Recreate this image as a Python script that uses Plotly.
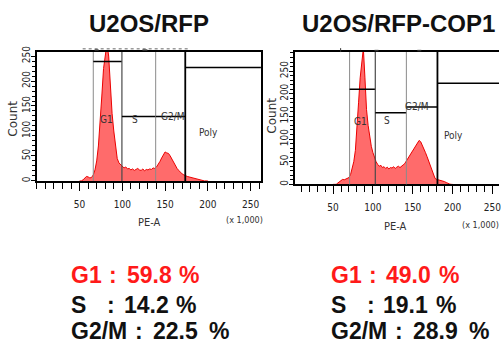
import numpy as np
import plotly.graph_objects as go

W, H = 501, 349

# PE-A channel (x 1,000) histogram bins
pe_bins = np.arange(50, 201, 2)

rfp_counts = [0, 0, 2, 6, 9, 8, 6, 7, 12, 22,
              40, 70, 115, 170, 225, 262, 275, 250, 180, 135,
              100, 65, 45, 36, 32, 29, 26, 28, 24, 25,
              22, 24, 21, 23, 25, 22, 21, 24, 20, 23,
              22, 24, 23, 26, 25, 28, 33, 39, 46, 52,
              58, 56, 55, 50, 43, 37, 31, 25, 21, 17,
              14, 12, 10, 9, 8, 7, 7, 5, 5, 4,
              3, 2, 1, 0, 0, 0]

cop1_counts = [0, 0, 0, 3, 6, 9, 11, 10, 12, 14,
               15, 22, 35, 50, 75, 120, 180, 235, 280, 300,
               235, 165, 130, 102, 84, 70, 58, 50, 44, 40,
               42, 37, 39, 35, 38, 34, 37, 36, 39, 35,
               38, 40, 37, 41, 43, 46, 52, 57, 63, 68,
               74, 81, 87, 93, 97, 94, 87, 78, 70, 61,
               51, 41, 31, 20, 13, 11, 10, 9, 9, 8,
               6, 4, 2, 1, 0, 0]

panel_titles = ["U2OS/RFP", "U2OS/RFP-COP1"]
phases = ["G1", "S", "G2/M"]
rfp_pct = [59.8, 14.2, 22.5]
cop1_pct = [49.0, 19.1, 28.9]

# Interval gates: left edge, right edge, gate height (counts)
gate_names = ["G1", "S", "G2/M", "Poly"]
rfp_gate_edges = [66, 99.5, 139, 173.6, 262.144]
rfp_gate_heights = [239, 129, 129, 227]
cop1_gate_edges = [70.75, 103, 142, 181, 262.144]
cop1_gate_heights = [210, 158, 171, 223]

x_ticks = [50, 100, 150, 200, 250]


def px(x):
    return x / W


def py(y):
    return 1 - y / H


NARROW = "Liberation Sans Narrow, Arial Narrow, DejaVu Sans Condensed, sans-serif"
TICK_FONT = dict(family=NARROW, size=10, color="#222")
SMALL_FONT = dict(family=NARROW, size=10, color="#333")
BOLD = "Liberation Sans, Arial, sans-serif"

fig = go.Figure()

panels = [
    dict(counts=rfp_counts, edges=rfp_gate_edges, heights=rfp_gate_heights,
         xdom=[px(37), px(262)], ydom=[py(178.5), py(47)],
         xrange=[0, 262.144], yrange=[0, 258], mirror_y=True,
         xs="x", ys="y",
         label_pos=[(82, 123), (114.7, 123), (159, 128.5), (201, 97)],
         count_xy=(13, 115), pe_xy=(150, 221), mult_xy=(245, 218),
         title_x=149.5, stats_x=69, pct=rfp_pct),
    dict(counts=cop1_counts, edges=cop1_gate_edges, heights=cop1_gate_heights,
         xdom=[px(296), 1.0], ydom=[py(182), py(47)],
         xrange=[2, 258.25], yrange=[0, 292], mirror_y=False,
         xs="x2", ys="y2",
         label_pos=[(85, 138), (118, 140.6), (155.6, 171), (200.7, 108)],
         count_xy=(273, 112), pe_xy=(397, 225), mult_xy=(482, 223),
         title_x=400.5, stats_x=330, pct=cop1_pct),
]

edge_styles = [("#8a8a8a", 1), ("#4a4a4a", 1.2), ("#8a8a8a", 1), ("#000000", 1.8)]

annotations = []
shapes = []

for i, p in enumerate(panels):
    xs, ys = p["xs"], p["ys"]
    fig.add_trace(go.Scatter(
        x=pe_bins, y=p["counts"], mode="lines", xaxis=xs, yaxis=ys,
        fill="tozeroy", fillcolor="rgba(255,30,30,0.66)",
        line=dict(color="rgb(235,0,0)", width=1), showlegend=False,
        hoverinfo="skip"))

    xname = "xaxis" if i == 0 else "xaxis2"
    yname = "yaxis" if i == 0 else "yaxis2"
    fig.update_layout({
        xname: dict(domain=p["xdom"], range=p["xrange"], anchor=ys,
                    showline=True, linecolor="black", linewidth=1.5, mirror=True,
                    ticks="outside", tickvals=x_ticks, ticklen=8, tickwidth=1,
                    tickcolor="black", tickfont=TICK_FONT, ticklabelstandoff=5,
                    ticklabeloverflow="allow",
                    minor=dict(tickmode="linear", tick0=0, dtick=10, ticklen=6,
                               ticks="outside", tickcolor="black", tickwidth=1),
                    showgrid=False, zeroline=False, fixedrange=True),
        yname: dict(domain=p["ydom"], range=p["yrange"], anchor=xs,
                    showline=True, linecolor="black", linewidth=1.5,
                    mirror=p["mirror_y"],
                    ticks="outside", tick0=0, dtick=50, ticklen=4, tickwidth=1,
                    tickcolor="black", tickfont=TICK_FONT, tickangle=-90,
                    ticklabelstandoff=-3,
                    minor=dict(tickmode="linear", tick0=0, dtick=10, ticklen=3,
                               ticks="outside", tickcolor="black", tickwidth=1),
                    showgrid=False, zeroline=False, fixedrange=True),
    })

    # gate boundaries (full height) and gate bars
    edges, heights = p["edges"], p["heights"]
    for k in range(4):
        col, w = edge_styles[k]
        shapes.append(dict(type="line", xref=xs, yref=f"{ys} domain",
                           x0=edges[k], x1=edges[k], y0=0, y1=1,
                           line=dict(color=col, width=w), layer="above"))
        right = min(edges[k + 1], p["xrange"][1])
        shapes.append(dict(type="line", xref=xs, yref=ys,
                           x0=edges[k], x1=right, y0=heights[k], y1=heights[k],
                           line=dict(color="black", width=1.5), layer="above"))

    for name, (lx, ly) in zip(gate_names, p["label_pos"]):
        annotations.append(dict(text=name, x=lx, y=ly, xref=xs, yref=ys,
                                showarrow=False, font=SMALL_FONT,
                                xanchor="center", yanchor="middle"))

    # axis titles
    cx, cy = p["count_xy"]
    annotations.append(dict(text="Count", x=px(cx), y=py(cy), xref="paper", yref="paper",
                            showarrow=False, textangle=-90,
                            font=dict(family="DejaVu Sans, sans-serif", size=12, color="#333"),
                            xanchor="center", yanchor="middle"))
    ex, ey = p["pe_xy"]
    annotations.append(dict(text="PE-A", x=px(ex), y=py(ey), xref="paper", yref="paper",
                            showarrow=False, font=dict(family=NARROW, size=11, color="#333"),
                            xanchor="center", yanchor="middle"))
    mx, my = p["mult_xy"]
    annotations.append(dict(text="(x 1,000)", x=px(mx), y=py(my), xref="paper", yref="paper",
                            showarrow=False, font=dict(family=NARROW, size=9, color="#333"),
                            xanchor="center", yanchor="middle"))

    # panel title
    annotations.append(dict(text=f"<b>{panel_titles[i]}</b>", x=px(p["title_x"]), y=py(17.5),
                            xref="paper", yref="paper", showarrow=False,
                            font=dict(family=BOLD, size=24, color="#111"),
                            xanchor="center", yanchor="middle"))

    # cell-cycle phase percentages
    x0 = p["stats_x"]
    line_y = [275, 305, 332]
    offsets = {"G1": (44, 56, 109), "S": (42, 53, 106), "G2/M": (71, 83, 139)}
    for ph, val, yy in zip(phases, p["pct"], line_y):
        col = "#ff1a1a" if ph == "G1" else "#111"
        f = dict(family=BOLD, size=23, color=col)
        oc, on, op = offsets[ph]
        for txt, xx, anc in [(ph, x0, "left"), (":", x0 + oc, "center"),
                             (f"{val:.1f}", x0 + on, "left"), ("%", x0 + op, "left")]:
            annotations.append(dict(text=f"<b>{txt}</b>", x=px(xx), y=py(yy),
                                    xref="paper", yref="paper", showarrow=False,
                                    font=f, xanchor=anc, yanchor="middle"))

# faint marker row along the top edge of the plot frames
shapes.append(dict(type="line", xref="paper", yref="paper",
                   x0=px(83), x1=px(190), y0=py(43.5), y1=py(43.5),
                   line=dict(color="#9a9a9a", width=1.5, dash="dot")))
for mx0, mx1, myy in [(95, 99, 45), (143, 148, 45), (376, 380, 45.5), (419, 423, 45.5)]:
    shapes.append(dict(type="line", xref="paper", yref="paper",
                       x0=px(mx0), x1=px(mx1), y0=py(myy), y1=py(myy),
                       line=dict(color="#333", width=1.5)))
shapes.append(dict(type="line", xref="paper", yref="paper",
                   x0=px(342), x1=px(342), y0=py(43), y1=py(47),
                   line=dict(color="#333", width=1)))

fig.update_layout(
    width=W, height=H, margin=dict(l=0, r=0, t=0, b=0),
    paper_bgcolor="white", plot_bgcolor="white",
    annotations=annotations, shapes=shapes, showlegend=False,
)

fig.write_html("out.html", config={"displayModeBar": False})
